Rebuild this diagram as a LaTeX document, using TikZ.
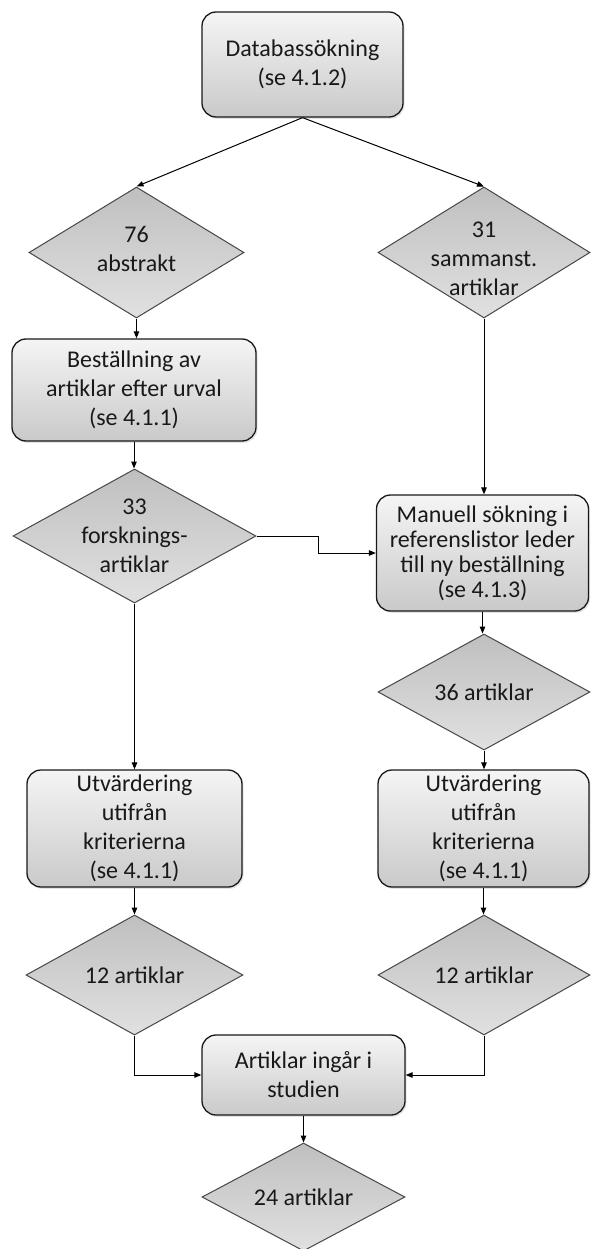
\documentclass[tikz,border=0pt]{standalone}
\usepackage{fontspec}
\setmainfont{Carlito}
\usetikzlibrary{shapes.geometric,arrows.meta,shadows}
\begin{document}
\begin{tikzpicture}[x=1pt,y=-1pt,
  every node/.style={font=\fontsize{24}{29}\selectfont, text=black!90},
  box/.style={rectangle, draw=black!90, line width=1.3pt, rounded corners=14pt,
    top color=black!4, bottom color=black!21, align=center, inner sep=1pt,
    drop shadow={opacity=0.22, shadow xshift=1.5pt, shadow yshift=-1.8pt}},
  dia/.style={diamond, draw=black!72, line width=1pt, top color=black!25,
    bottom color=black!12, inner sep=0pt},
  txt/.style={align=center, inner sep=0pt},
  conn/.style={draw=black, line width=1pt, -{Triangle[length=7pt,width=5.5pt]}},
]
\fill[white] (0,0) rectangle (590,1249);
\useasboundingbox (0,0) rectangle (590,1249);

% nodes
\node[box, minimum width=201pt, minimum height=105pt] (top) at (302.5,64.5) {Databassökning\\(se 4.1.2)};

\node[dia, minimum width=215pt, minimum height=131pt] (d1) at (136.5,252.5) {};
\node[txt] (d1t) at (136.5,249) {76\\abstrakt};
\node[dia, minimum width=212pt, minimum height=131pt] (d2) at (484,252.5) {};
\node[txt] (d2t) at (484,259) {31\\sammanst.\\artiklar};

\node[box, minimum width=244pt, minimum height=102pt] (b2) at (134,390) {Beställning av\\artiklar efter urval\\(se 4.1.1)};
\node[dia, minimum width=243pt, minimum height=134pt] (d3) at (134.5,536) {};
\node[txt] (d3t) at (134.5,536) {33\\forsknings-\\artiklar};

\node[box, minimum width=212pt, minimum height=116pt, font=\fontsize{24}{25}\selectfont] (b3) at (482.5,553) {Manuell sökning i\\referenslistor leder\\till ny beställning\\(se 4.1.3)};
\node[dia, minimum width=212pt, minimum height=116pt] (d4) at (484,692) {};
\node[txt] (d4t) at (484,692) {36 artiklar};

\node[box, minimum width=215pt, minimum height=117pt] (b4) at (134.5,828.5) {Utvärdering\\utifrån\\kriterierna\\(se 4.1.1)};
\node[box, minimum width=211pt, minimum height=117pt] (b5) at (483.5,828.5) {Utvärdering\\utifrån\\kriterierna\\(se 4.1.1)};

\node[dia, minimum width=217pt, minimum height=120pt] (d5) at (134.5,975) {};
\node[txt] (d5t) at (134.5,975) {12 artiklar};
\node[dia, minimum width=212pt, minimum height=120pt] (d6) at (484,975) {};
\node[txt] (d6t) at (484,975) {12 artiklar};

\node[box, minimum width=203pt, minimum height=80pt] (b6) at (303.5,1075) {Artiklar ingår i\\studien};
\node[dia, minimum width=203pt, minimum height=108pt] (d7) at (303.5,1197) {};
\node[txt] (d7t) at (303.5,1197) {24 artiklar};

\coordinate (e1) at (318,0);

% connectors
\draw[conn] (top.south) -- (d1.north);
\draw[conn] (top.south) -- (d2.north);
\draw[conn] (d1.south) -- (d1.south |- b2.north);
\draw[conn] (b2.south) -- (b2.south |- d3.north);
\draw[conn] (d2.south) -- (d2.south |- b3.north);
\draw[conn] (d3.east) -- (d3.east -| e1) -- (e1 |- b3.west) -- (b3.west);
\draw[conn] (d3.south) -- (d3.south |- b4.north);
\draw[conn] (b3.south) -- (b3.south |- d4.north);
\draw[conn] (d4.south) -- (d4.south |- b5.north);
\draw[conn] (b4.south) -- (b4.south |- d5.north);
\draw[conn] (b5.south) -- (b5.south |- d6.north);
\draw[conn] (d5.south) |- (b6.west);
\draw[conn] (d6.south) |- (b6.east);
\draw[conn] (b6.south) -- (d7.north);
\end{tikzpicture}
\end{document}
